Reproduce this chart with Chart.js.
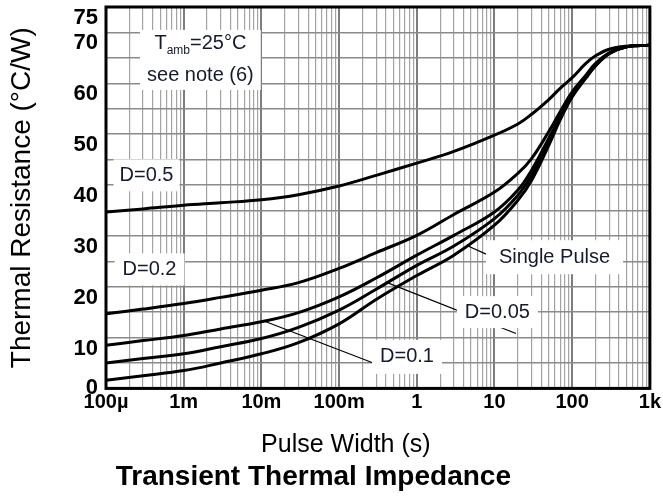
<!DOCTYPE html>
<html>
<head>
<meta charset="utf-8">
<script src="https://cdn.jsdelivr.net/npm/chart.js@4.4.1/dist/chart.umd.min.js"></script>
<style>
  html, body { margin: 0; padding: 0; background: #fff; }
  #chart { display: block; }
</style>
</head>
<body>
<canvas id="chart" width="663" height="499"></canvas>
<script>
const pulseWidth = [1e-4, 3e-4, 1e-3, 3e-3, 1e-2, 3e-2, 0.1, 0.3, 1, 3, 10, 20, 30, 50, 70, 100, 150, 200, 300, 500, 1000];

// thermal resistance (°C/W) per duty cycle
const rthD05    = [34.7, 35.3, 36.0, 36.5, 37.1, 38.1, 39.8, 41.9, 44.3, 46.6, 49.8, 52.0, 53.9, 56.8, 59.0, 61.1, 63.9, 65.4, 66.7, 67.3, 67.5];
const rthD02    = [14.7, 15.6, 16.7, 17.9, 19.3, 20.8, 23.6, 26.7, 30.1, 34.2, 38.6, 42.3, 45.2, 50.5, 54.4, 58.3, 61.6, 63.9, 66.0, 67.2, 67.5];
const rthD01    = [8.5, 9.4, 10.4, 11.7, 13.1, 14.9, 18.0, 21.7, 26.2, 30.1, 34.7, 39.0, 42.9, 49.2, 53.4, 57.7, 61.3, 63.6, 65.9, 67.2, 67.5];
const rthD005   = [5.0, 5.9, 6.8, 8.2, 9.8, 12.0, 15.4, 19.5, 24.2, 28.0, 33.4, 38.0, 41.9, 48.5, 53.1, 57.5, 61.2, 63.5, 65.9, 67.2, 67.5];
const rthSingle = [1.6, 2.5, 3.5, 5.0, 6.8, 9.0, 12.7, 17.5, 22.2, 26.2, 32.1, 37.0, 40.9, 47.8, 52.8, 57.3, 61.0, 63.4, 65.8, 67.2, 67.5];

const decadeLabels = ['100µ', '1m', '10m', '100m', '1', '10', '100', '1k'];
const yLabelValues = [0, 10, 20, 30, 40, 50, 60, 70, 75];

const FONT = "Arial, 'Liberation Sans', sans-serif";
const NOTE_COLOR = '#151a2c';

// labels written inside the plot (centre in data units); each line is a list of [text, size, dy]
const notes = [
  { x: 1.64e-3, y: 64.6, padX: 7, padY: -2, gap: 32, lines: [
      [['T', 20, 0], ['amb', 12, 7], ['=25°C', 20, 0]],
      [['see note (6)', 20, 0]] ] },
  { x: 3.32e-4, y: 41.9, padX: 6, padY: 4, gap: 20, lines: [[['D=0.5', 20, 0]]] },
  { x: 3.63e-4, y: 23.4, padX: 8, padY: 4, gap: 20, lines: [[['D=0.2', 20, 0]]] },
  { x: 59.2, y: 25.8, padX: 13, padY: 5, gap: 20, lines: [[['Single Pulse', 20, 0]]] },
  { x: 10.9, y: 15.0, padX: 8, padY: 4, gap: 20, lines: [[['D=0.05', 20, 0]]] },
  { x: 0.748, y: 6.2, padX: 8, padY: 5, gap: 20, lines: [[['D=0.1', 20, 0]]] }
];

// thin pointer lines from labels to their curves
const leaders = [
  [[0.011, 13.2], [0.265, 5.1]],
  [[0.40, 20.9], [18.9, 10.8]],
  [[4.56, 28.0], [7.8, 26.4]]
];

function curve(values) {
  return values.map((v, i) => ({ x: pulseWidth[i], y: v }));
}

function lineStyle(label, values) {
  return {
    label: label,
    data: curve(values),
    borderColor: '#000',
    borderWidth: 3,
    pointRadius: 0,
    fill: false,
    tension: 0.4
  };
}

const notesPlugin = {
  id: 'notes',
  beforeDatasetsDraw(chart) {
    const ctx = chart.ctx;
    const xs = chart.scales.x, ys = chart.scales.y;
    ctx.save();
    ctx.strokeStyle = '#000';
    ctx.lineWidth = 1.2;
    leaders.forEach(seg => {
      ctx.beginPath();
      ctx.moveTo(xs.getPixelForValue(seg[0][0]), ys.getPixelForValue(seg[0][1]));
      ctx.lineTo(xs.getPixelForValue(seg[1][0]), ys.getPixelForValue(seg[1][1]));
      ctx.stroke();
    });

    ctx.textBaseline = 'middle';
    ctx.textAlign = 'left';
    notes.forEach(n => {
      const cx = xs.getPixelForValue(n.x);
      const cy = ys.getPixelForValue(n.y);
      const widths = n.lines.map(line => line.reduce((w, part) => {
        ctx.font = part[1] + 'px ' + FONT;
        return w + ctx.measureText(part[0]).width;
      }, 0));
      const boxW = Math.max.apply(null, widths) + n.padX * 2;
      const boxH = n.lines.length * n.gap + n.padY * 2 + (n.lines.length > 1 ? 0 : 4);
      ctx.fillStyle = '#fff';
      ctx.fillRect(cx - boxW / 2, cy - boxH / 2, boxW, boxH);

      ctx.fillStyle = NOTE_COLOR;
      n.lines.forEach((line, li) => {
        let x = cx - widths[li] / 2;
        const y = cy + (li - (n.lines.length - 1) / 2) * n.gap;
        line.forEach(part => {
          ctx.font = part[1] + 'px ' + FONT;
          ctx.fillText(part[0], x, y + part[2]);
          x += ctx.measureText(part[0]).width;
        });
      });
    });
    ctx.restore();
  },
  afterDraw(chart) {
    // heavy frame round the plot
    const a = chart.chartArea;
    const ctx = chart.ctx;
    ctx.save();
    ctx.strokeStyle = '#000';
    ctx.lineWidth = 3;
    ctx.strokeRect(a.left, a.top, a.right - a.left, a.bottom - a.top);
    ctx.restore();
  }
};

const whiteBg = {
  id: 'whiteBg',
  beforeDraw(chart) {
    const ctx = chart.ctx;
    ctx.save();
    ctx.fillStyle = '#fff';
    ctx.fillRect(0, 0, chart.width, chart.height);
    ctx.restore();
  }
};

new Chart(document.getElementById('chart').getContext('2d'), {
  type: 'line',
  data: {
    datasets: [
      lineStyle('D=0.5', rthD05),
      lineStyle('D=0.2', rthD02),
      lineStyle('D=0.1', rthD01),
      lineStyle('D=0.05', rthD005),
      lineStyle('Single Pulse', rthSingle)
    ]
  },
  options: {
    responsive: false,
    animation: false,
    layout: { padding: { top: 7, right: 13, left: 0, bottom: 0 } },
    scales: {
      x: {
        type: 'logarithmic',
        min: 1e-4,
        max: 1000,
        afterBuildTicks: scale => {
          const ticks = [];
          for (let e = -4; e < 3; e++) {
            for (let m = 1; m < 10; m++) ticks.push({ value: m * Math.pow(10, e), decade: m === 1 });
          }
          ticks.push({ value: 1000, decade: true });
          scale.ticks = ticks;
        },
        afterFit: scale => { scale.height = 30; },
        grid: {
          drawTicks: false,
          color: c => (c.tick && c.tick.decade) ? '#7d7d7d' : '#a3a3a3',
          lineWidth: c => (c.tick && c.tick.decade) ? 2 : 1.2
        },
        border: { display: false },
        ticks: {
          autoSkip: false,
          maxRotation: 0,
          minRotation: 0,
          padding: 2,
          color: '#000',
          font: { family: FONT, size: 20, weight: 'bold' },
          callback: (value, index, ticks) => ticks[index].decade
            ? decadeLabels[Math.round(Math.log10(value)) + 4] : ''
        }
      },
      y: {
        type: 'linear',
        min: 0,
        max: 75,
        afterFit: scale => {
          scale.width = 106;
          scale.paddingTop = 0;
          scale.paddingBottom = 0;
        },
        grid: { drawTicks: false, color: '#8a8a8a', lineWidth: 1.4 },
        border: { display: false },
        title: {
          display: true,
          text: 'Thermal Resistance (°C/W)',
          color: '#000',
          font: { family: FONT, size: 28 },
          padding: { top: 5, bottom: 4 }
        },
        ticks: {
          stepSize: 5,
          autoSkip: false,
          padding: 8,
          color: '#000',
          font: { family: FONT, size: 22, weight: 'bold', lineHeight: 1 },
          // labels sit a little below their grid line, except the zero
          callback: value => {
            if (!yLabelValues.includes(value)) return '';
            return value === 0 ? '0' : [' ', String(value)];
          }
        }
      }
    },
    plugins: {
      legend: { display: false },
      tooltip: { enabled: false },
      subtitle: {
        display: true,
        position: 'bottom',
        text: '      Pulse Width (s)',
        color: '#000',
        font: { family: FONT, size: 25, weight: 'normal' },
        padding: { top: 12, bottom: 0 }
      },
      title: {
        display: true,
        position: 'bottom',
        text: 'Transient Thermal Impedance   ',
        color: '#000',
        font: { family: FONT, size: 28, weight: 'bold' },
        padding: { top: 0, bottom: 5 }
      }
    }
  },
  plugins: [whiteBg, notesPlugin]
});
</script>
</body>
</html>
